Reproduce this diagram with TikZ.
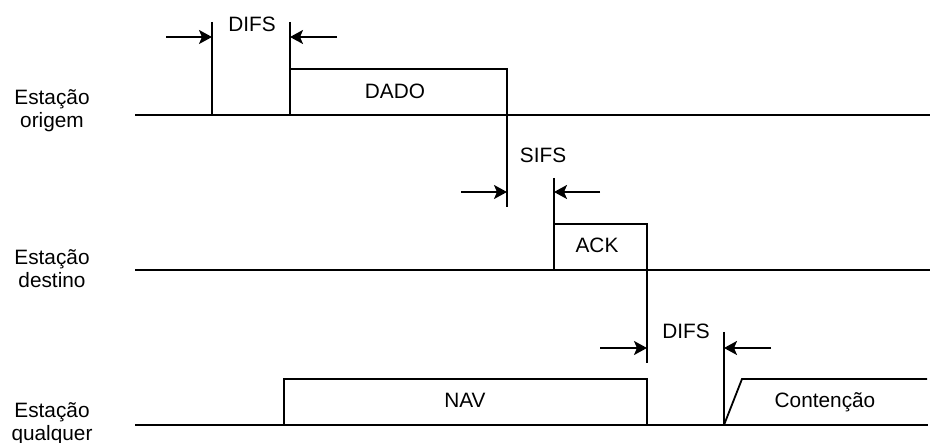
\documentclass[tikz,border=0pt]{standalone}
\usepackage{fontspec}
\setmainfont{Liberation Sans}
\usetikzlibrary{arrows.meta}
\begin{document}
\begin{tikzpicture}[x=1pt,y=-1pt,
  wire/.style={line width=1.8pt,line cap=butt,line join=miter},
  dimarrow/.style={line width=1.8pt,-{Stealth[length=13pt,width=14pt,inset=3pt]}},
  lbl/.style={font=\fontsize{20.8}{23}\selectfont,inner sep=0pt,anchor=base},
  station/.style={font=\fontsize{20.8}{23}\selectfont,inner sep=0pt,anchor=base,align=center}]
\useasboundingbox[fill=white] (0,0) rectangle (930,443);

% station labels
\node[lbl] (o1) at (52,105) {Estação};
\node[lbl] (o2) at (52,128) {origem};
\node[lbl] (d1) at (52,265) {Estação};
\node[lbl] (d2) at (52,288) {destino};
\node[lbl] (q1) at (52,418) {Estação};
\node[lbl] (q2) at (52,441) {qualquer};

% time lines
\coordinate (L1s) at (135,115); \coordinate (L1e) at (930,115);
\coordinate (L2s) at (135,270); \coordinate (L2e) at (930,270);
\coordinate (L3s) at (135,425); \coordinate (L3e) at (928,425);
\draw[wire] (L1s) -- (L1e);
\draw[wire] (L2s) -- (L2e);
\draw[wire] (L3s) -- (L3e);

% DIFS (origin)
\coordinate (v1t) at (212,22); \coordinate (v1b) at (212,115);
\coordinate (v2t) at (290,22); \coordinate (v2b) at (290,115);
\draw[wire] (v1t) -- (v1b);
\draw[wire] (v2t) -- (v2b);
\coordinate (a1s) at (166,37); \coordinate (a1e) at (212,37);
\coordinate (a2s) at (337,37); \coordinate (a2e) at (290,37);
\draw[dimarrow] (a1s) -- (a1e);
\draw[dimarrow] (a2s) -- (a2e);
\node[lbl] (difs1) at (252,32) {DIFS};

% DADO frame
\coordinate (dadoTL) at (290,69); \coordinate (dadoTR) at (507,69); \coordinate (dadoB) at (507,207);
\draw[wire] (dadoTL) -- (dadoTR) -- (dadoB);
\node[lbl] (dado) at (395,99) {DADO};

% SIFS
\coordinate (a3s) at (461,192); \coordinate (a3e) at (507,192);
\coordinate (a4s) at (600,192); \coordinate (a4e) at (554,192);
\draw[dimarrow] (a3s) -- (a3e);
\draw[dimarrow] (a4s) -- (a4e);
\node[lbl] (sifs) at (543,163) {SIFS};

% ACK frame
\coordinate (ackT) at (554,178); \coordinate (ackB) at (554,270);
\draw[wire] (ackT) -- (ackB);
\coordinate (ackTL) at (554,224); \coordinate (ackTR) at (647,224); \coordinate (ackD) at (647,363);
\draw[wire] (ackTL) -- (ackTR) -- (ackD);
\node[lbl] (ack) at (597,253) {ACK};

% DIFS (any station)
\coordinate (a5s) at (600,348); \coordinate (a5e) at (647,348);
\coordinate (a6s) at (771,348); \coordinate (a6e) at (724,348);
\draw[dimarrow] (a5s) -- (a5e);
\draw[dimarrow] (a6s) -- (a6e);
\node[lbl] (difs2) at (686,339) {DIFS};

% NAV
\coordinate (navBL) at (284,425); \coordinate (navTL) at (284,379);
\coordinate (navTR) at (647,379); \coordinate (navBR) at (647,425);
\draw[wire] (navBL) -- (navTL) -- (navTR) -- (navBR);
\node[lbl] (nav) at (465,408) {NAV};

% Contention
\coordinate (cT) at (724,332); \coordinate (cB) at (724,425);
\draw[wire] (cT) -- (cB);
\coordinate (cS) at (742,379); \coordinate (cE) at (927,379);
\draw[wire] (cB) -- (cS) -- (cE);
\node[lbl] (cont) at (825,408) {Contenção};
\end{tikzpicture}
\end{document}
